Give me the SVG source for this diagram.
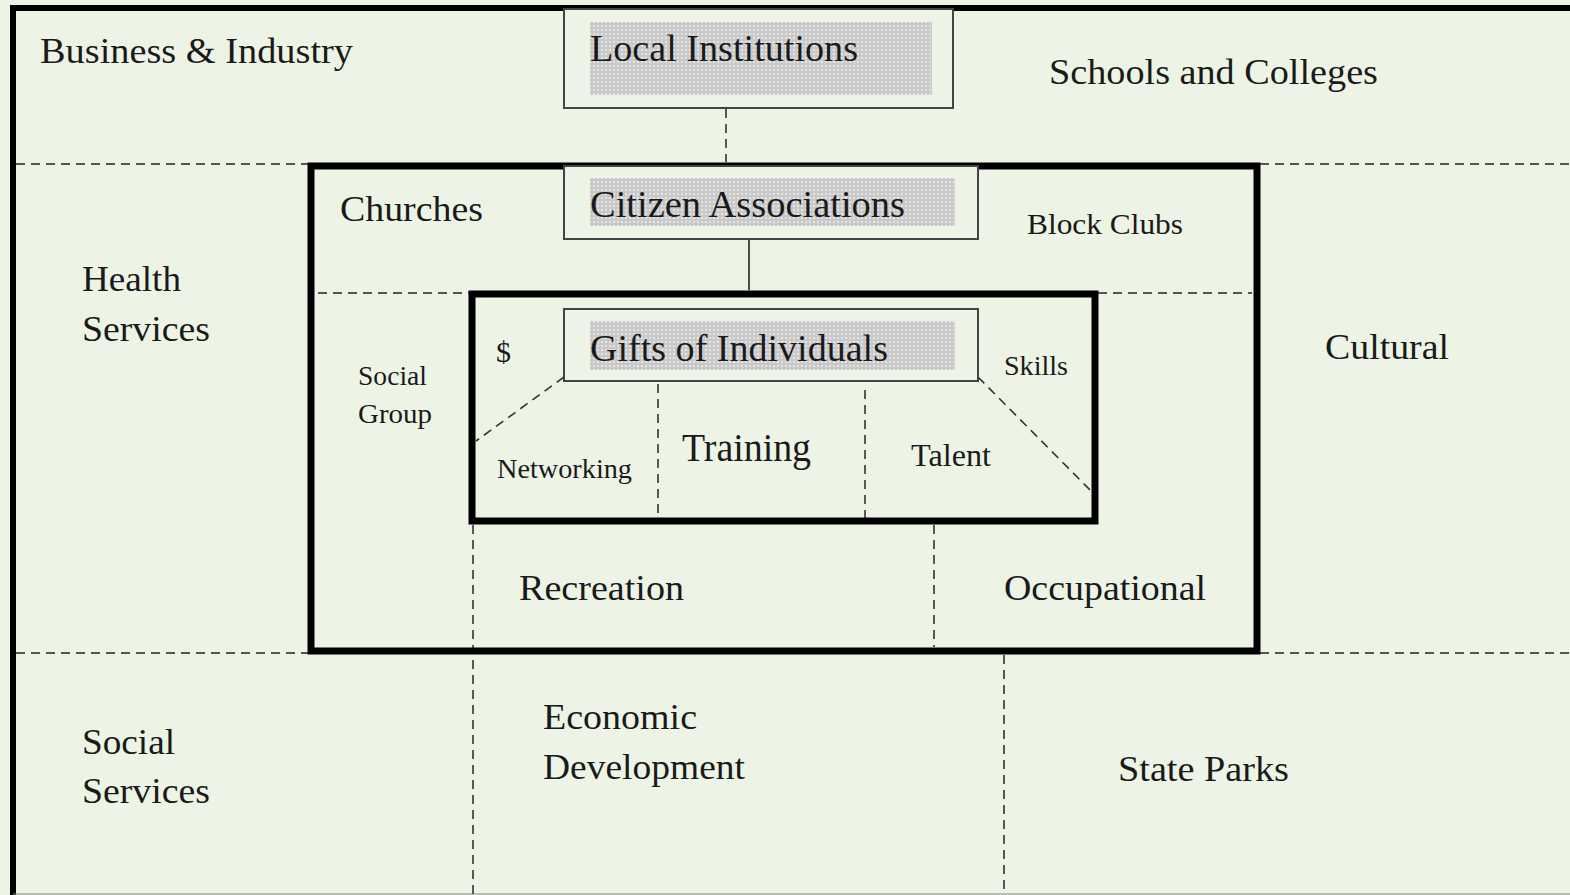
<svg xmlns="http://www.w3.org/2000/svg" width="1570" height="895" viewBox="0 0 1570 895">
<style>
.t{font-family:"Liberation Serif","Times New Roman",serif;fill:#1a1a1a}
.thick{fill:none;stroke:#000;stroke-width:7}
.dash{fill:none;stroke:#555;stroke-width:2;stroke-dasharray:9 6}
.vdash{fill:none;stroke:#333;stroke-width:1.6;stroke-dasharray:9 6}
.box{fill:#edf4e6;stroke:#444;stroke-width:2}
.hl{fill:url(#stip)}
</style>
<defs>
<pattern id="stip" width="4" height="4" patternUnits="userSpaceOnUse">
<rect width="4" height="4" fill="#c9c9c9"/>
<circle cx="2" cy="2" r="1" fill="#ececec"/>
</pattern>
</defs>
<rect width="1570" height="895" fill="#edf4e6"/>
<path d="M13,895 V8 H1570" fill="none" stroke="#000" stroke-width="6"/>
<line x1="13" y1="894" x2="1570" y2="894" stroke="#888" stroke-width="1"/>
<g id="connectors">
<line class="dash" x1="16" y1="164" x2="308" y2="164"/>
<line class="dash" x1="1260" y1="164" x2="1570" y2="164"/>
<line class="dash" x1="16" y1="653" x2="308" y2="653"/>
<line class="dash" x1="1260" y1="653" x2="1570" y2="653"/>
<line class="dash" x1="318" y1="293" x2="469" y2="293"/>
<line class="dash" x1="1098" y1="293" x2="1252" y2="293"/>
<line class="vdash" x1="726" y1="109" x2="726" y2="162"/>
<line x1="749" y1="240" x2="749" y2="290" stroke="#222" stroke-width="1.6"/>
<line class="vdash" x1="564" y1="377" x2="476" y2="441"/>
<line class="vdash" x1="978" y1="377" x2="1092" y2="492"/>
<line class="vdash" x1="658" y1="384" x2="658" y2="516"/>
<line class="vdash" x1="865" y1="390" x2="865" y2="518"/>
<line class="vdash" x1="473" y1="525" x2="473" y2="895"/>
<line class="vdash" x1="934" y1="525" x2="934" y2="647"/>
<line class="vdash" x1="1004" y1="655" x2="1004" y2="895"/>
</g>
<g id="middle-frame"><rect class="thick" x="311" y="166" width="946" height="485"/></g>
<g id="inner-frame"><rect class="thick" x="472" y="294" width="623" height="227"/></g>
<g id="local-institutions">
<rect class="box" x="564" y="9" width="389" height="99"/>
<rect class="hl" x="590" y="22" width="342" height="73"/>
<text class="t" x="590" y="61" font-size="38" textLength="268" lengthAdjust="spacingAndGlyphs">Local Institutions</text>
</g>
<g id="citizen-associations">
<rect class="box" x="564" y="166" width="414" height="73"/>
<rect class="hl" x="590" y="178" width="365" height="48"/>
<text class="t" x="590" y="217" font-size="38" textLength="315" lengthAdjust="spacingAndGlyphs">Citizen Associations</text>
</g>
<g id="gifts-of-individuals">
<rect class="box" x="564" y="309" width="414" height="72"/>
<rect class="hl" x="590" y="321" width="365" height="49"/>
<text class="t" x="590" y="361" font-size="38" textLength="298" lengthAdjust="spacingAndGlyphs">Gifts of Individuals</text>
</g>
<g id="business-industry"><text class="t" x="40" y="63" font-size="36" textLength="313" lengthAdjust="spacingAndGlyphs">Business &amp; Industry</text></g>
<g id="schools-colleges"><text class="t" x="1049" y="84" font-size="36" textLength="329" lengthAdjust="spacingAndGlyphs">Schools and Colleges</text></g>
<g id="churches"><text class="t" x="340" y="221" font-size="36" textLength="143" lengthAdjust="spacingAndGlyphs">Churches</text></g>
<g id="block-clubs"><text class="t" x="1027" y="234" font-size="30" textLength="156" lengthAdjust="spacingAndGlyphs">Block Clubs</text></g>
<g id="health-services"><text class="t" font-size="36"><tspan x="82" y="291" textLength="99" lengthAdjust="spacingAndGlyphs">Health</tspan><tspan x="82" y="341" textLength="128" lengthAdjust="spacingAndGlyphs">Services</tspan></text></g>
<g id="cultural"><text class="t" x="1325" y="359" font-size="36" textLength="124" lengthAdjust="spacingAndGlyphs">Cultural</text></g>
<g id="social-group"><text class="t" font-size="28"><tspan x="358" y="385" textLength="69" lengthAdjust="spacingAndGlyphs">Social</tspan><tspan x="358" y="423" textLength="74" lengthAdjust="spacingAndGlyphs">Group</tspan></text></g>
<g id="dollar"><text class="t" x="496" y="362" font-size="30">$</text></g>
<g id="skills"><text class="t" x="1004" y="375" font-size="28" textLength="64" lengthAdjust="spacingAndGlyphs">Skills</text></g>
<g id="networking"><text class="t" x="497" y="478" font-size="28" textLength="135" lengthAdjust="spacingAndGlyphs">Networking</text></g>
<g id="training"><text class="t" x="682" y="461" font-size="40" textLength="129" lengthAdjust="spacingAndGlyphs">Training</text></g>
<g id="talent"><text class="t" x="911" y="466" font-size="32" textLength="80" lengthAdjust="spacingAndGlyphs">Talent</text></g>
<g id="recreation"><text class="t" x="519" y="600" font-size="36" textLength="165" lengthAdjust="spacingAndGlyphs">Recreation</text></g>
<g id="occupational"><text class="t" x="1004" y="600" font-size="36" textLength="202" lengthAdjust="spacingAndGlyphs">Occupational</text></g>
<g id="economic-development"><text class="t" font-size="36"><tspan x="543" y="729" textLength="154" lengthAdjust="spacingAndGlyphs">Economic</tspan><tspan x="543" y="779" textLength="202" lengthAdjust="spacingAndGlyphs">Development</tspan></text></g>
<g id="social-services"><text class="t" font-size="36"><tspan x="82" y="754" textLength="93" lengthAdjust="spacingAndGlyphs">Social</tspan><tspan x="82" y="803" textLength="128" lengthAdjust="spacingAndGlyphs">Services</tspan></text></g>
<g id="state-parks"><text class="t" x="1118" y="781" font-size="36" textLength="171" lengthAdjust="spacingAndGlyphs">State Parks</text></g>
</svg>
